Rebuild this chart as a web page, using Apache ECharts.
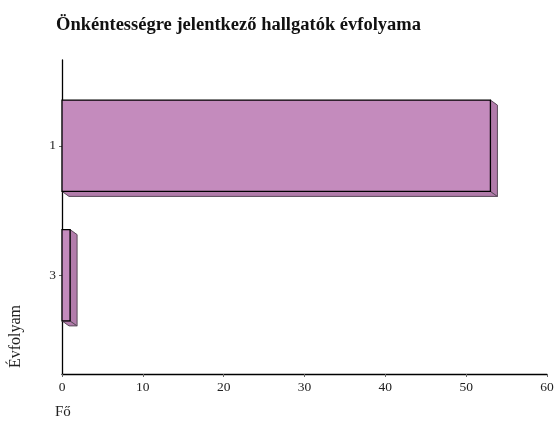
<!DOCTYPE html>
<html>
<head>
<meta charset="utf-8">
<script src="https://cdn.jsdelivr.net/npm/echarts@6/dist/echarts.min.js"></script>
<style>
  html, body { margin: 0; padding: 0; background: #fff; }
  #chart { width: 557px; height: 424px; }
</style>
</head>
<body>
<div id="chart"></div>
<script>
// évfolyam kategóriák és létszámok
var years = ['1', '3'];
var counts = [53, 1];
var xTicks = [0, 10, 20, 30, 40, 50, 60];

var serif = '"Liberation Serif", "DejaVu Serif", serif';
var front = '#c48bbd';
var side = '#b27cab';

var chart = echarts.init(document.getElementById('chart'));

var barData = [];
for (var i = 0; i < years.length; i++) {
	barData.push([counts[i], i]);
}

function draw3d(params, api) {
	var idx = api.value(1);
	var p0 = api.coord([0, idx]);
	var p1 = api.coord([api.value(0), idx]);
	var band = api.size([0, 1])[1];
	var h = band * 0.705;
	var y0 = p0[1] - h / 2, y1 = p0[1] + h / 2;
	var x0 = p0[0], x1 = p1[0];
	var dx = 7, dy = 5;
	return {
		type: 'group',
		children: [
			{
				type: 'polygon',
				shape: { points: [[x0, y1], [x0 + dx, y1 + dy], [x1 + dx, y1 + dy], [x1, y1]] },
				style: { fill: side, stroke: '#5a4a5a', lineWidth: 1 }
			},
			{
				type: 'polygon',
				shape: { points: [[x1, y0], [x1 + dx, y0 + dy], [x1 + dx, y1 + dy], [x1, y1]] },
				style: { fill: side, stroke: '#5a4a5a', lineWidth: 1 }
			},
			{
				type: 'rect',
				shape: { x: x0, y: y0, width: x1 - x0, height: h },
				style: { fill: front, stroke: '#000', lineWidth: 1.3 }
			}
		]
	};
}

var option = {
	animation: false,
	title: {
		text: 'Önkéntességre jelentkező hallgatók évfolyama',
		left: 51,
		top: 11,
		textStyle: { fontFamily: serif, fontSize: 18.5, fontWeight: 'bold', color: '#111' }
	},
	grid: [
		{ left: 62, right: 10, top: 81, bottom: 84 },
		{ left: 62, right: 10, top: 60, bottom: 50 }
	],
	xAxis: [
		{
			gridIndex: 0, type: 'value', min: 0, max: 60, interval: 10,
			show: false
		},
		{
			gridIndex: 1, type: 'value', min: xTicks[0], max: xTicks[xTicks.length - 1], interval: 10,
			axisLine: { show: true, lineStyle: { color: '#000', width: 1.3 } },
			axisTick: { show: true, length: 3, lineStyle: { color: '#666' } },
			axisLabel: { fontFamily: serif, fontSize: 13.5, color: '#222', margin: 6 },
			splitLine: { show: false }
		}
	],
	yAxis: [
		{
			gridIndex: 0, type: 'category', data: years, inverse: true,
			axisLine: { show: false },
			axisTick: { show: true, alignWithLabel: true, length: 3, lineStyle: { color: '#666' } },
			axisLabel: { fontFamily: serif, fontSize: 13.5, color: '#222', margin: 6 },
			splitLine: { show: false }
		},
		{
			gridIndex: 1, type: 'value', min: 0, max: 1,
			axisLine: { show: true, lineStyle: { color: '#000', width: 1.3 } },
			axisTick: { show: false },
			axisLabel: { show: false },
			splitLine: { show: false }
		}
	],
	graphic: [
		{
			type: 'text', left: 55, top: 405,
			style: { text: 'Fő', font: '15px ' + serif, fill: '#222' }
		},
		{
			type: 'text', left: 8, top: 305, rotation: Math.PI / 2,
			style: { text: 'Évfolyam', font: '16px ' + serif, fill: '#222' }
		}
	],
	series: [
		{
			type: 'custom',
			xAxisIndex: 0,
			yAxisIndex: 0,
			renderItem: draw3d,
			data: barData
		}
	]
};

chart.setOption(option);
</script>
</body>
</html>
